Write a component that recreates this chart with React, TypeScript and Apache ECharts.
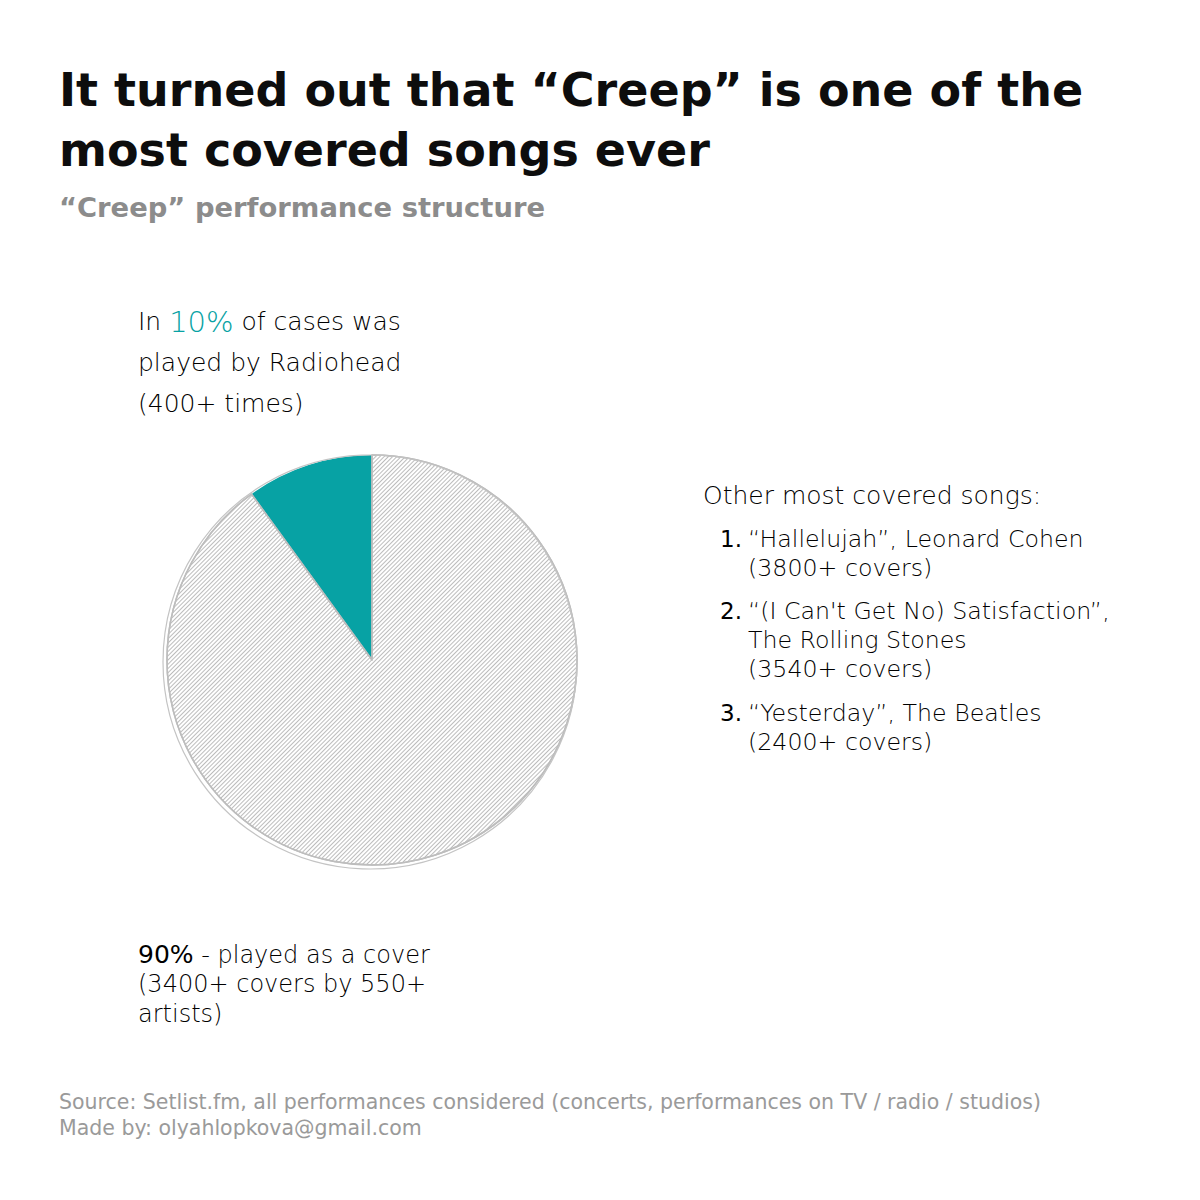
import React, { useEffect, useRef } from "react";
import * as echarts from "echarts";

const sliceNames = ["Radiohead", "Covers"];
const sliceValues = [10, 90];
const sliceColors = ["#07a2a4", "#ffffff"];

const titleLines = ["It turned out that “Creep” is one of the", "most covered songs ever"];
const subtitle = "“Creep” performance structure";
const topNote = ["In {t|10%} of cases was", "played by Radiohead", "(400+ times)"];
const bottomNote = ["{b|90%} - played as a cover", "(3400+ covers by 550+", "artists)"];
const otherHeader = "Other most covered songs:";
const otherNums = ["1.", "2.", "3."];
const otherSongs = [
  ["“Hallelujah”, Leonard Cohen", "(3800+ covers)"],
  ["“(I Can't Get No) Satisfaction”,", "The Rolling Stones", "(3540+ covers)"],
  ["“Yesterday”, The Beatles", "(2400+ covers)"],
];
const footer = [
  "Source: Setlist.fm, all performances considered (concerts, performances on TV / radio / studios)",
  "Made by: olyahlopkova@gmail.com",
];

const HAND = "'DejaVu Sans', sans-serif";
const BOLD = "'DejaVu Sans', sans-serif";

function block(x: number, y: number, lines: string[], font: string, fill: string, lh: number, extra: any = {}) {
  return {
    type: "text",
    x,
    y,
    style: { text: lines.join("\n"), font, fill, verticalAlign: "top", align: "left", lineHeight: lh, ...extra },
  };
}

export default function App() {
  const ref = useRef<HTMLDivElement>(null);
  useEffect(() => {
    const chart = echarts.init(ref.current!, null, { renderer: "svg" });
    const graphics: any[] = [];
    graphics.push(block(59, 60, titleLines, `700 46px ${BOLD}`, "#0d0d0d", 60));
    graphics.push(block(59, 190, [subtitle], `700 27.4px ${BOLD}`, "#8c8c8c", 34));
    graphics.push(
      block(138, 301, topNote, `200 25px ${HAND}`, "#000", 41, {
        rich: { t: { fontSize: 29, fontWeight: 200, fontFamily: HAND, fill: "#07a2a4", color: "#07a2a4", lineHeight: 41 } },
      })
    );
    graphics.push(
      block(138, 940, bottomNote, `200 24px ${HAND}`, "#000", 29.5, {
        rich: { b: { fontSize: 25, fontWeight: 400, fontFamily: HAND, fill: "#000", color: "#000", lineHeight: 29.5 } },
      })
    );
    graphics.push(block(703, 479, [otherHeader], `200 25px ${HAND}`, "#000", 32));
    const songTop = [524.5, 596.5, 698.5];
    otherSongs.forEach((lines, i) => {
      graphics.push(block(720, songTop[i], [otherNums[i]], `400 23px ${HAND}`, "#000", 29));
      graphics.push(block(748, songTop[i], lines, `200 23.7px ${HAND}`, "#000", 29));
    });
    graphics.push(block(59, 1089, footer, `400 20.5px ${BOLD}`, "#9a9a9a", 26));
    // sketchy extra outline
    graphics.push({
      type: "circle",
      shape: { cx: 370, cy: 662, r: 207 },
      style: { fill: "none", stroke: "#c4c4c4", lineWidth: 1.2 },
      z: 10,
    });

    chart.setOption({
      animation: false,
      backgroundColor: "#ffffff",
      graphic: graphics,
      series: [
        {
          type: "pie",
          center: [372, 660],
          radius: [0, 205],
          startAngle: 90,
          clockwise: false,
          label: { show: false },
          labelLine: { show: false },
          emphasis: { disabled: true },
          data: sliceNames.map((n, i) => ({
            name: n,
            value: sliceValues[i],
            itemStyle:
              i === 0
                ? { color: sliceColors[i], borderWidth: 0 }
                : {
                    color: sliceColors[i],
                    borderColor: "#bdbdbd",
                    borderWidth: 1.5,
                    decal: {
                      symbol: "rect",
                      color: "#bcbcbc",
                      dashArrayX: [1, 0],
                      dashArrayY: [1, 2],
                      rotation: -Math.PI / 4,
                    },
                  },
          })),
        },
      ],
    });
    return () => chart.dispose();
  }, []);
  return (
    <div
      ref={ref}
      style={{ position: "fixed", left: 0, top: 0, width: 1200, height: 1200, background: "#fff" }}
    />
  );
}
